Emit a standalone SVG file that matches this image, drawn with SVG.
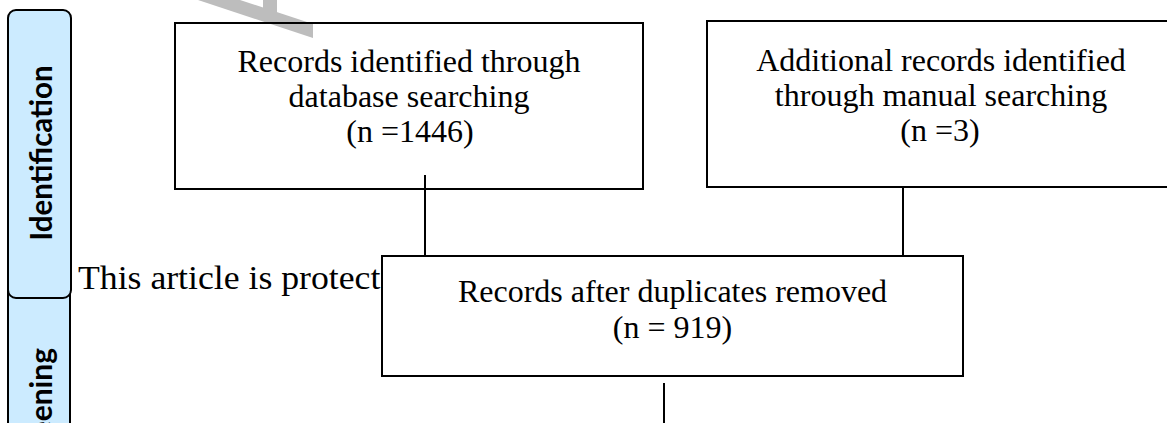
<svg xmlns="http://www.w3.org/2000/svg" width="1167" height="423" viewBox="0 0 1167 423">
  <style>
    .tab { fill: #CCEBFF; stroke: #000; stroke-width: 2; }
    .tabtxt { font-family: Lato, "Open Sans", sans-serif; font-weight: bold; font-size: 30px; fill: #000; }
    .box { fill: #fff; stroke: #000; stroke-width: 2; }
    .t { font-family: "Liberation Serif", serif; font-size: 32px; fill: #000; text-anchor: middle; }
    .conn { stroke: #000; stroke-width: 2; fill: none; }
    .body { font-family: "Liberation Serif", serif; font-size: 33px; fill: #000; }
  </style>

  <!-- watermark fragment -->
  <g id="watermark" fill="#BDBDBD">
    <polygon points="198,0 240,0 313,24 313,38"/>
    <rect x="263" y="0" width="14" height="15"/>
  </g>

  <!-- side tabs -->
  <g id="tab-screening">
    <rect class="tab" x="8" y="260" width="62" height="200" rx="8"/>
    <text class="tabtxt" transform="translate(52,348) rotate(-90)" text-anchor="end">Screening</text>
  </g>
  <g id="tab-identification">
    <rect class="tab" x="8" y="10" width="63" height="288" rx="8"/>
    <text class="tabtxt" transform="translate(52,153) rotate(-90)" text-anchor="middle" textLength="175" lengthAdjust="spacingAndGlyphs">Identification</text>
  </g>

  <!-- background page text -->
  <text id="page-text" class="body" x="78" y="289" textLength="336" lengthAdjust="spacingAndGlyphs">This article is protected</text>

  <!-- connectors -->
  <g id="connectors">
    <line class="conn" x1="425" y1="175" x2="425" y2="257"/>
    <line class="conn" x1="903" y1="187" x2="903" y2="257"/>
    <line class="conn" x1="664" y1="383" x2="664" y2="423"/>
  </g>

  <g id="node-database">
    <rect class="box" x="175" y="23" width="468" height="166" style="fill:none"/>
    <text class="t" x="409" y="72">Records identified through</text>
    <text class="t" x="409" y="107">database searching</text>
    <text class="t" x="410" y="142">(n =1446)</text>
  </g>

  <g id="node-manual">
    <rect class="box" x="707" y="21" width="466" height="166"/>
    <text class="t" x="941" y="71">Additional records identified</text>
    <text class="t" x="941" y="106">through manual searching</text>
    <text class="t" x="940" y="141">(n =3)</text>
  </g>

  <g id="node-dedup">
    <rect class="box" x="382" y="256" width="581" height="120"/>
    <text class="t" x="672.5" y="302">Records after duplicates removed</text>
    <text class="t" x="672.5" y="338">(n = 919)</text>
  </g>
</svg>
